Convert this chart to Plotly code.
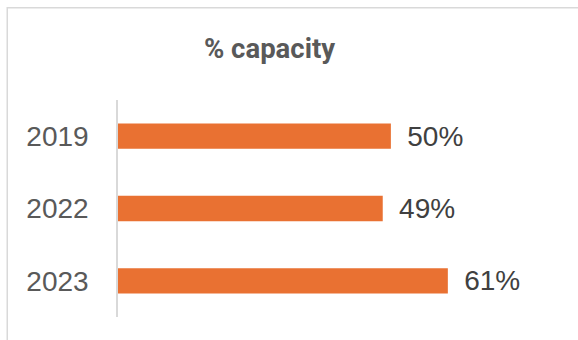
import plotly.graph_objects as go

years = ["2019", "2022", "2023"]
capacity = [0.503, 0.488, 0.608]
title_text = "% capacity"

W, H = 578, 340
L, R = 117.5, 552.5
T, B = 100, 317

fig = go.Figure(go.Bar(
    x=capacity, y=years, orientation="h",
    marker=dict(color="#E97132", line=dict(width=0)),
    texttemplate="\u00a0\u2009%{x:.0%}", textposition="outside",
    textfont=dict(family="Liberation Sans, Arial", size=28, color="#404040"),
    constraintext="none", cliponaxis=False,
))

pw, ph = R - L, B - T
def px_x(p):
    return (p - L) / pw
def px_y(p):
    return 1 + (T - p) / ph

fig.update_layout(
    width=W, height=H,
    margin=dict(l=L, r=W - R, t=T, b=H - B),
    paper_bgcolor="white", plot_bgcolor="white",
    bargap=0.65,
    showlegend=False,
    title=dict(text="<b>" + title_text + "</b>", x=269.5 / W, xref="container", xanchor="center",
               y=1 - 48 / H, yref="container", yanchor="middle",
               font=dict(family="Roboto", size=27.5, color="#595959")),
    xaxis=dict(range=[0, 0.8], visible=False, showgrid=False, zeroline=False, fixedrange=True),
    yaxis=dict(autorange="reversed", showline=True, linecolor="#D9D9D9", linewidth=1.5,
               ticks="", showgrid=False, zeroline=False, ticklabelstandoff=22,
               tickfont=dict(family="Liberation Sans, Arial", size=28, color="#595959")),
    shapes=[dict(type="rect", xref="paper", yref="paper",
                 x0=px_x(6.5), x1=px_x(W + 20), y0=px_y(H + 20), y1=px_y(7.8),
                 line=dict(color="#D9D9D9", width=1.5), fillcolor="rgba(0,0,0,0)", layer="below")],
)

fig.write_html("out.html")
